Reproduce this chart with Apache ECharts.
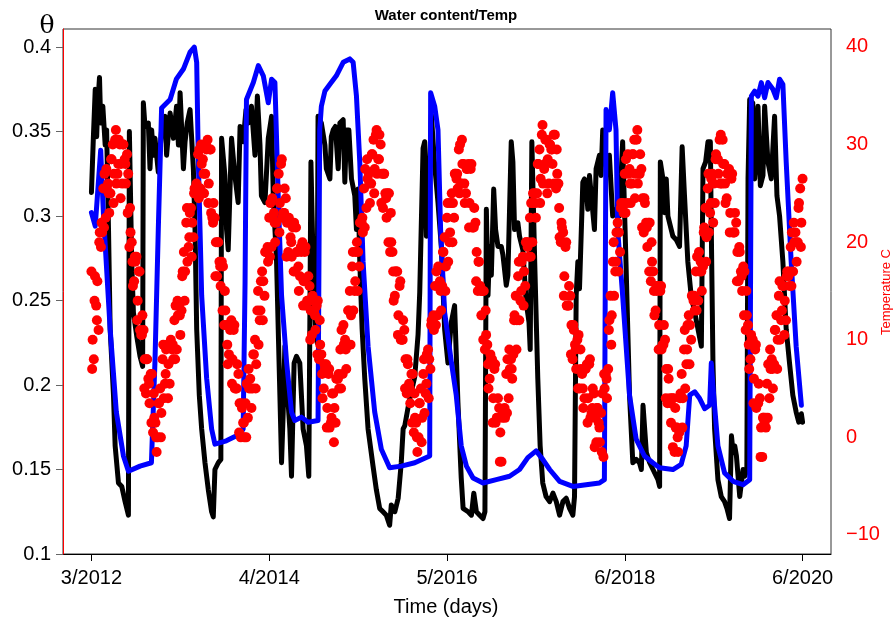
<!DOCTYPE html>
<html>
<head>
<meta charset="utf-8">
<script src="https://cdn.jsdelivr.net/npm/echarts@6/dist/echarts.min.js"></script>
<style>html,body{margin:0;padding:0;background:#fff}#c{width:896px;height:621px}</style>
</head>
<body>
<div id="c"></div>
<script>
// x axis: days since start of record
const xTickDays = [0, 750, 1500, 2250, 3000];
const xTickLabels = ['3/2012', '4/2014', '5/2016', '6/2018', '6/2020'];
const thetaTicks = [0.1, 0.15, 0.2, 0.25, 0.3, 0.35, 0.4];
const tempTicks = [-10, 0, 10, 20, 30, 40];

// water content, shallow sensor (black) [day, theta]
const blackTheta = [[0,0.314],[8,0.346],[16,0.375],[22,0.347],[27,0.367],[34,0.382],[39,0.355],[48,0.365],[58,0.342],[64,0.351],[72,0.292],[79,0.233],[93,0.194],[100,0.164],[114,0.142],[128,0.140],[142,0.131],[156,0.123],[160,0.350],[170,0.273],[177,0.243],[191,0.229],[205,0.217],[216,0.211],[219,0.367],[226,0.353],[240,0.355],[247,0.328],[254,0.351],[261,0.336],[268,0.346],[282,0.326],[296,0.351],[311,0.359],[317,0.336],[332,0.361],[346,0.346],[359,0.365],[367,0.342],[374,0.373],[388,0.328],[395,0.344],[404,0.355],[416,0.363],[430,0.328],[437,0.292],[444,0.233],[455,0.194],[465,0.174],[479,0.154],[493,0.138],[507,0.125],[514,0.122],[521,0.150],[535,0.154],[546,0.156],[549,0.346],[563,0.324],[570,0.292],[577,0.280],[591,0.346],[605,0.324],[619,0.308],[627,0.353],[640,0.344],[652,0.363],[662,0.355],[675,0.365],[690,0.336],[700,0.371],[711,0.342],[717,0.312],[732,0.308],[746,0.346],[760,0.359],[767,0.312],[781,0.273],[788,0.233],[795,0.194],[802,0.154],[809,0.184],[816,0.223],[823,0.204],[837,0.174],[844,0.146],[855,0.213],[865,0.217],[879,0.213],[893,0.174],[907,0.164],[917,0.146],[926,0.332],[935,0.273],[945,0.233],[952,0.225],[956,0.359],[970,0.355],[985,0.342],[991,0.328],[1006,0.322],[1012,0.347],[1020,0.351],[1029,0.353],[1041,0.328],[1048,0.355],[1062,0.357],[1069,0.320],[1076,0.351],[1086,0.351],[1097,0.322],[1111,0.312],[1118,0.292],[1125,0.316],[1132,0.273],[1142,0.233],[1153,0.204],[1167,0.174],[1188,0.152],[1202,0.138],[1216,0.127],[1230,0.125],[1244,0.123],[1258,0.117],[1265,0.129],[1280,0.125],[1294,0.133],[1307,0.154],[1315,0.174],[1322,0.176],[1340,0.190],[1364,0.205],[1378,0.230],[1385,0.255],[1399,0.340],[1406,0.344],[1413,0.288],[1420,0.300],[1434,0.360],[1448,0.330],[1462,0.308],[1476,0.282],[1490,0.233],[1504,0.213],[1518,0.237],[1532,0.247],[1546,0.190],[1560,0.145],[1568,0.127],[1589,0.125],[1603,0.123],[1613,0.136],[1624,0.125],[1638,0.123],[1652,0.121],[1660,0.125],[1666,0.304],[1673,0.253],[1680,0.282],[1687,0.265],[1697,0.316],[1705,0.292],[1715,0.282],[1729,0.282],[1736,0.277],[1750,0.259],[1757,0.265],[1771,0.344],[1778,0.332],[1785,0.292],[1799,0.296],[1806,0.288],[1820,0.280],[1834,0.249],[1846,0.237],[1851,0.221],[1858,0.344],[1870,0.273],[1883,0.204],[1893,0.164],[1904,0.142],[1918,0.134],[1933,0.131],[1947,0.136],[1961,0.131],[1975,0.123],[1989,0.131],[2003,0.133],[2017,0.127],[2031,0.123],[2038,0.134],[2045,0.253],[2052,0.273],[2059,0.257],[2073,0.320],[2080,0.322],[2087,0.318],[2094,0.304],[2101,0.324],[2108,0.324],[2122,0.292],[2129,0.328],[2143,0.336],[2150,0.324],[2157,0.351],[2171,0.330],[2185,0.336],[2199,0.300],[2213,0.304],[2227,0.300],[2241,0.344],[2255,0.273],[2270,0.194],[2284,0.154],[2298,0.156],[2312,0.154],[2320,0.150],[2327,0.188],[2341,0.160],[2355,0.154],[2369,0.150],[2390,0.144],[2397,0.140],[2400,0.332],[2411,0.322],[2418,0.302],[2425,0.322],[2432,0.300],[2446,0.292],[2453,0.288],[2467,0.286],[2481,0.282],[2492,0.341],[2502,0.312],[2516,0.273],[2530,0.253],[2545,0.243],[2559,0.233],[2573,0.223],[2580,0.328],[2591,0.332],[2601,0.344],[2611,0.344],[2615,0.292],[2622,0.213],[2629,0.174],[2643,0.144],[2657,0.134],[2671,0.131],[2681,0.127],[2692,0.121],[2700,0.170],[2707,0.160],[2714,0.164],[2721,0.158],[2735,0.134],[2749,0.150],[2756,0.146],[2765,0.150],[2770,0.322],[2777,0.369],[2790,0.367],[2798,0.322],[2805,0.336],[2812,0.365],[2822,0.318],[2833,0.324],[2840,0.365],[2854,0.332],[2868,0.322],[2882,0.359],[2892,0.312],[2903,0.300],[2917,0.273],[2931,0.233],[2945,0.213],[2959,0.194],[2973,0.184],[2984,0.178],[2995,0.183],[3000,0.178]];

// water content, deep sensor (blue) [day, theta]
const blueTheta = [[0,0.302],[16,0.294],[39,0.339],[51,0.300],[79,0.233],[105,0.184],[135,0.158],[156,0.149],[205,0.152],[253,0.154],[268,0.214],[282,0.292],[296,0.364],[332,0.369],[358,0.381],[388,0.387],[416,0.397],[434,0.400],[444,0.391],[451,0.332],[465,0.253],[486,0.204],[507,0.174],[521,0.165],[569,0.167],[627,0.171],[640,0.174],[648,0.260],[654,0.369],[683,0.379],[704,0.389],[725,0.383],[746,0.367],[760,0.381],[774,0.379],[788,0.312],[802,0.253],[823,0.214],[844,0.184],[858,0.179],[886,0.181],[914,0.178],[956,0.179],[963,0.351],[970,0.365],[985,0.374],[1006,0.378],[1033,0.383],[1062,0.391],[1090,0.393],[1104,0.391],[1118,0.371],[1132,0.332],[1146,0.273],[1167,0.223],[1195,0.184],[1223,0.162],[1258,0.151],[1307,0.152],[1364,0.154],[1427,0.158],[1431,0.373],[1448,0.365],[1462,0.351],[1473,0.292],[1490,0.243],[1518,0.214],[1539,0.194],[1560,0.164],[1582,0.152],[1610,0.145],[1652,0.142],[1708,0.144],[1764,0.146],[1806,0.150],[1841,0.157],[1876,0.161],[1904,0.156],[1933,0.150],[1975,0.143],[2031,0.140],[2087,0.141],[2143,0.142],[2164,0.144],[2171,0.363],[2185,0.351],[2199,0.373],[2213,0.351],[2220,0.292],[2241,0.253],[2270,0.194],[2298,0.168],[2333,0.158],[2368,0.154],[2397,0.151],[2453,0.150],[2488,0.153],[2509,0.164],[2524,0.194],[2545,0.196],[2566,0.192],[2587,0.186],[2608,0.188],[2615,0.213],[2625,0.194],[2643,0.164],[2671,0.148],[2707,0.143],[2749,0.141],[2777,0.144],[2784,0.371],[2798,0.374],[2812,0.371],[2826,0.379],[2840,0.370],[2854,0.379],[2875,0.375],[2889,0.370],[2903,0.381],[2917,0.378],[2931,0.332],[2952,0.273],[2973,0.223],[2995,0.188]];

// temperature (red): three interleaved sets of readings, each every 10 days
const tempStepDays = 10;
const tempStartA = 0;
const tempA = [
17,8,13.5,11,19.5,25.5,22.5,26,25,30,
30.5,27,30,26,28.5,29,19.5,20,16,18.5,
17,10.5,11,4.5,6,6.5,0.5,1.5,0,5,
8,5.5,9.5,5.5,9,12,9,13.5,13,19,
22,19.5,23.5,20.5,25.5,29,25.5,28.5,27,30.5,
29.5,22.5,22.5,16.5,18,18,11.5,11.5,8.5,12,
11,5,6.5,0,1.5,3.5,2,6,5,10,
13,12,17,14.5,19,22.5,19.5,23,22,27,
28,23,24.5,19,20.5,21.5,17,19,16.5,20,
19,14,15.5,10.5,13,13.5,8,8.5,5,7.5,
6.5,1.5,4.5,1.5,6,9,6.5,10,9.5,15,
17.5,15,20,17.5,22,25.5,23.5,27,26,30.5,
31,28.5,30,23.5,25,25,19,19,14.5,17,
15.5,10,11,4.5,5.5,6.5,0.5,1.5,0,5,
6.5,4.5,9,7,12,15.5,12.5,16,15.5,20.5,
22.5,20,25,22.5,26.5,29.5,26,28,25,28,
27.5,21.5,22,15,15.5,15,9,9.5,6,8,
7,2,3,-2.5,2.5,6.5,4,8,8.5,14.5,
16.5,14,18.5,15.5,19.5,22.5,20,25,25,29.5,
31,27.5,30.5,26,29.5,31,25.5,26,20,21,
19.5,13.5,14.5,8,9.5,10,5,6.5,4,7.5,
7.5,2.5,4.5,-0.5,1.5,2.5,-2,6.5,7,14.5,
18,17,22,19,23.5,27,24,27.5,26,30.5,
30.5,27,27.5,21,22,22,16,17,13,15.5,
15,9.5,10,3.5,4,4,-1.5,1,0.5,6.5,
9,7.5,12.5,10,14,17,14,18,17.5,23.5,
25.5,23,27,24,28.5,30.5,26,28,24.5,27.5,
26.5,21,22,16,17,17.5,11,11.5,8,10,
9,3.5,4,-2,1.5,5.5,4,8,7.5,12.5,
14.5,12,15.5,12,16.5,19.5,17,21,20,25.5,
26.5
];
const tempStartB = 5;
const tempB = [
10,16.5,16,21,21,27,25.5,23,28.5,27,
26,30.5,28,30,26,27,21,15.5,18,14,
11,12.5,8,8,3.5,6.5,2,-1.5,3.5,2.5,
4,9,7.5,10,8,13.5,12.5,10.5,17,17,
18,23,22,25.5,25,29.5,28,25,29.5,26,
23,24,20,20,15.5,17.5,13,7.5,11,8,
5,7.5,3.5,3,0,5.5,5,3,8.5,7.5,
9.5,16,16,19,18,24,22.5,20,25.5,24,
22.5,25.5,22,22,18.5,22,19,15,19,16,
13.5,16.5,13,14,11,14,9.5,4,7,3,
1,4.5,3,6,5,11,9.5,7,13,12.5,
13,19,19,22,21,27.5,26.5,24,29,27.5,
27,31,27,27,22.5,25,20,14,17,12.5,
10,12,8,7.5,3.5,6.5,2,-1.5,3.5,2,
2.5,8.5,8,12,11,17,15.5,13,19,17.5,
18,24,24,27,25.5,30,28,24,27.5,24,
21.5,23.5,19,18,12.5,15,10.5,5,8,4,
1.5,4,0.5,2.5,2,8,7,6,12.5,12,
12,18,17,20,18.5,24,24,22.5,28,26.5,
26,30.5,28.5,30,28,31,27,20.5,21.5,16.5,
13.5,15.5,11.5,11,7,10.5,7,3,7,4,
2,5,2,3,-0.5,4.5,5,4,12,12.5,
14.5,21,21,24,23,28.5,27,24,29,27,
26,29,24.5,24,19.5,22,18,12.5,15,11.5,
9,11.5,7,6,1.5,4,1,-1.5,4.5,4,
5,11.5,11.5,14.5,13,18.5,17,15,21.5,20.5,
21,26.5,26,29,27,31,28,24,27,23,
21,23,19,19,15,17,12.5,7,10,6,
3,5.5,1,2,1,7.5,7,5,11,10,
10,15.5,14,17,15.5,21,20,18,24,22
];
const tempStartC = 3;
const tempC = [
7,14,12,20,22,21.5,27.5,25,28.5,24,
31.5,28,24.5,30,28,23,23.5,18,18.5,12,
17,10.5,5,8,5.5,1.5,4.5,0,3.5,0,
9.5,6.5,4,9.5,9.5,8,14,12.5,16.5,14,
23.5,20.5,18.5,25,26,24.5,30,27,30,24,
29.5,22,16.5,20,17.5,13,15,9.5,11.5,5.5,
11.5,5,0.5,3.5,1.5,0,7,5,8.5,5,
15,13,12,19,19.5,18.5,24.5,22,25.5,21,
28.5,23,18.5,22.5,20,17,21.5,17.5,19.5,13.5,
19.5,14,10,14.5,12.5,8.5,12,6.5,7.5,1,
7,2,-0.5,6,6.5,5,11.5,9,13,9.5,
19,16,15,22,22.5,21.5,28.5,26,29,25,
31.5,28.5,24,27,24.5,20,23,17,17,10.5,
16,10,5,8,5,1.5,4.5,0,3.5,-0.5,
8,5.5,4,11.5,12.5,11.5,17.5,15,19,15,
24,21,20,27,27,25,30.5,26,27.5,21.5,
28,21.5,16,18,15,10,13,7.5,8.5,1.5,
7.5,2,-2.5,2,3,2.5,9,7,12,9,
18,15,13.5,20,20,18.5,25,24,28,24,
32,28,25,30,29.5,26,29.5,23.5,22,14.5,
20,13.5,8.5,11.5,9,5,9,5,7,1.5,
8,3,-1,3,1,-1.5,6.5,6,11,9.5,
20,18,17,23.5,24,23,29,26,29,24.5,
31.5,27,21.5,24.5,21.5,17,20,15,15.5,9,
15.5,9.5,4,7,3.5,-1,3,0,4,1,
11,9,7.5,14.5,14.5,13,19,17,21,18,
27,24,22,28.5,28.5,26,30.5,26,27,21,
27,21,16,19.5,16.5,12.5,15,9.5,10.5,3.5,
9.5,3.5,-2,2,2,2,9,7,11,7,
16,13,10.5,16.5,17,15.5,22,20,23.5,19.5
];

const tempPts = tempA.map((t, i) => [tempStartA + i * tempStepDays, t])
  .concat(tempB.map((t, i) => [tempStartB + i * tempStepDays, t]))
  .concat(tempC.map((t, i) => [tempStartC + i * tempStepDays, t]));
const FONT = '"Liberation Sans", Arial, Helvetica, sans-serif';

const chart = echarts.init(document.getElementById('c'), null, {renderer: 'canvas'});
chart.setOption({
  animation: false,
  backgroundColor: '#fff',
  grid: {left: 63, right: 65, top: 29, bottom: 67, show: true, borderColor: '#333', borderWidth: 1, backgroundColor: 'transparent', containLabel: false, outerBoundsMode: 'none'},
  xAxis: {
    type: 'value', min: -120, max: 3120,
    axisLine: {show: true, onZero: false, lineStyle: {color: '#000', width: 1}},
    axisTick: {show: true, customValues: xTickDays, length: 7, lineStyle: {color: '#000', width: 1}},
    axisLabel: {customValues: xTickDays, fontSize: 20, fontFamily: FONT, color: '#000', margin: 14,
      formatter: v => { const k = xTickDays.indexOf(Math.round(v)); return k >= 0 ? xTickLabels[k] : ''; }},
    splitLine: {show: false}
  },
  yAxis: [
    {
      type: 'value', position: 'left', min: 0.1, max: 0.4107, z: 5,
      axisLine: {show: true, onZero: false, lineStyle: {color: '#ff0000', width: 1}},
      axisTick: {show: true, customValues: thetaTicks, length: 7, lineStyle: {color: '#666', width: 1}},
      axisLabel: {customValues: thetaTicks, fontSize: 20, fontFamily: FONT, color: '#000', margin: 12,
        formatter: v => String(Math.round(v * 100) / 100)},
      splitLine: {show: false}
    },
    {
      type: 'value', position: 'right', min: -11.95, max: 41.84,
      axisLine: {show: false}, axisTick: {show: false},
      axisLabel: {customValues: tempTicks, fontSize: 20, fontFamily: FONT, color: '#ff0000', margin: 15,
        formatter: v => { const r = Math.round(v); return r < 0 ? '\u2212' + Math.abs(r) : String(r); }},
      splitLine: {show: false}
    }
  ],
  series: [
    {type: 'line', name: 'theta shallow', yAxisIndex: 0, data: blackTheta, symbol: 'none', showSymbol: false,
      lineStyle: {color: '#000', width: 5, join: 'round', cap: 'round'}, silent: true, z: 2},
    {type: 'line', name: 'theta deep', yAxisIndex: 0, data: blueTheta, symbol: 'none', showSymbol: false,
      lineStyle: {color: '#0000ff', width: 5, join: 'round', cap: 'round'}, silent: true, z: 3},
    {type: 'scatter', name: 'Temperature', yAxisIndex: 1, data: tempPts, symbol: 'circle', symbolSize: 10,
      itemStyle: {color: '#ff0000', opacity: 1}, silent: true, z: 4, large: false}
  ],
  graphic: [
    {type: 'text', x: 446, y: 16, style: {text: 'Water content/Temp', font: 'bold 15px ' + FONT, fill: '#000', align: 'center', verticalAlign: 'middle'}},
    {type: 'text', x: 47, y: 26, style: {text: 'θ', font: '25px "DejaVu Serif", serif', fill: '#000', align: 'center', verticalAlign: 'middle'}},
    {type: 'text', x: 446, y: 607, style: {text: 'Time (days)', font: '20px ' + FONT, fill: '#000', align: 'center', verticalAlign: 'middle'}},
    {type: 'text', x: 886, y: 292, rotation: Math.PI / 2, style: {text: 'Temperature C', font: '13px ' + FONT, fill: '#ff0000', align: 'center', verticalAlign: 'middle'}}
  ]
});
</script>
</body>
</html>
